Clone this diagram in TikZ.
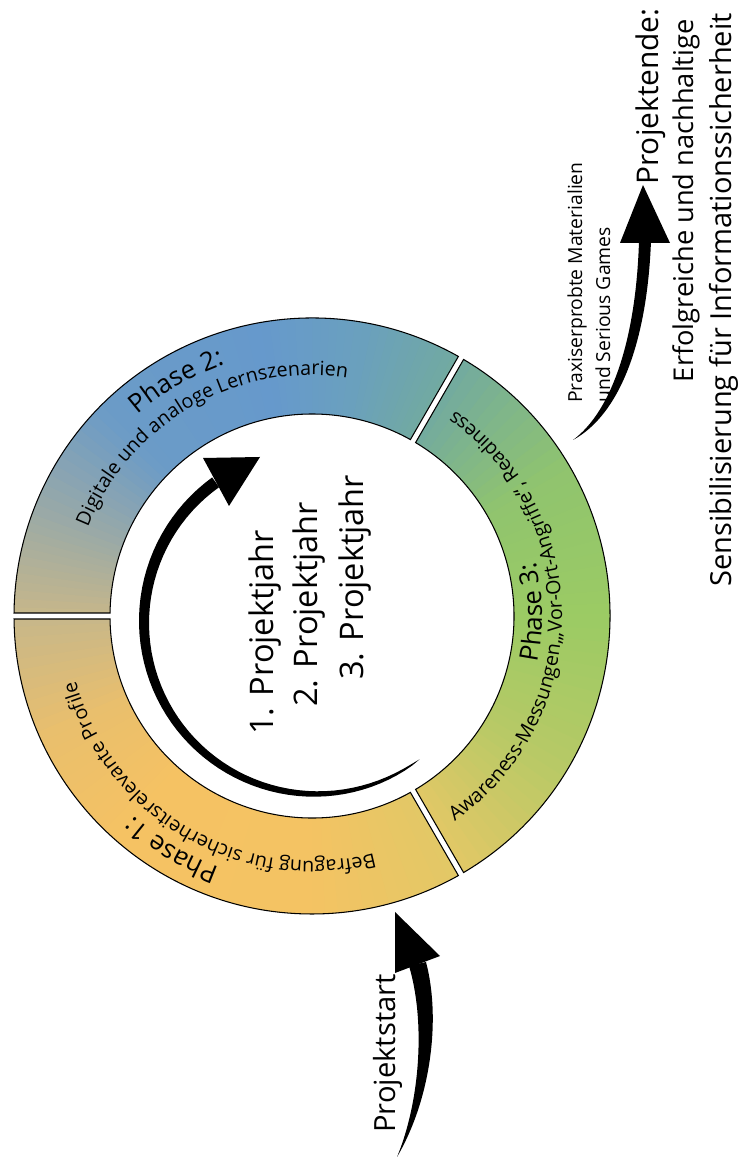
\documentclass[tikz,border=0pt]{standalone}
\usepackage{fontspec}
\setmainfont{Open Sans}
\usetikzlibrary{decorations.text}

% ring colours (by angle)
\definecolor{stA}{HTML}{9BCB64}
\definecolor{stB}{HTML}{90C46E}
\definecolor{stC}{HTML}{72AAA0}
\definecolor{stD}{HTML}{6AA0BE}
\definecolor{stE}{HTML}{6699CC}
\definecolor{stF}{HTML}{6B9BC7}
\definecolor{stG}{HTML}{9CAAA5}
\definecolor{stH}{HTML}{C7B78A}
\definecolor{stI}{HTML}{EABF6C}
\definecolor{stJ}{HTML}{F5C263}
\definecolor{stK}{HTML}{F4C363}
\definecolor{stL}{HTML}{E2C866}
\definecolor{stM}{HTML}{B6C966}

\newcommand{\phaseseg}[2]{([shift={(#1+0.58:298)}]c) arc (#1+0.58:#2-0.58:298)
  -- ([shift={(#2-0.85:202)}]c) arc (#2-0.85:#1+0.85:202) -- cycle}
\newcommand{\phasefont}{\fontsize{14.7}{17}\selectfont}
\newcommand{\descfont}{\fontsize{11.2}{13}\selectfont}

\tikzset{
  yeartxt/.style={rotate=90, inner sep=0pt, font=\fontsize{18.5}{22}\selectfont},
  bigtxt/.style={rotate=90, inner sep=0pt, font=\fontsize{#1}{18}\selectfont},
  bigtxt/.default=15.5,
  smalltxt/.style={rotate=90, inner sep=0pt, font=\fontsize{11}{13}\selectfont},
  ringline/.style={draw=black, line width=0.6pt},
}

\begin{document}
\begin{tikzpicture}[x=0.02cm, y=0.02cm]

    \useasboundingbox (0,0) rectangle (740,1159);
    \coordinate (c) at (312,543);

    % Ring with colour slices
    \begin{scope}
        \clip \phaseseg{-60}{60} \phaseseg{60}{180} \phaseseg{180}{300};
        \foreach \sa/\ea/\ca/\cb in {0/30/stA/stB, 30/60/stB/stC, 60/80/stC/stD,
            80/100/stD/stE, 100/135/stE/stF, 135/160/stF/stG, 160/180/stG/stH,
            180/205/stH/stI, 205/230/stI/stJ, 230/270/stJ/stK, 270/300/stK/stL,
            300/330/stL/stM, 330/360/stM/stA}
            \foreach \k in {0,...,11} {
                \pgfmathsetmacro\s{\sa+(\ea-\sa)*\k/12}
                \pgfmathsetmacro\e{\sa+(\ea-\sa)*(\k+1)/12+0.4}
                \pgfmathsetmacro\t{100*(\k+0.5)/12}
                \colorlet{slicecol}{\cb!\t!\ca}
                \fill[slicecol] (c) -- +(\s:320) -- +(\e:320) -- cycle;
            }
    \end{scope}
    \draw[ringline] \phaseseg{-60}{60};   % phase 3
    \draw[ringline] \phaseseg{60}{180};   % phase 2
    \draw[ringline] \phaseseg{180}{300};  % phase 1

    % Ring texts
    \path[decorate, decoration={text along path, text align=center,
        text={|\phasefont|Phase 2:}}] ([shift={(150:266)}]c) arc (150:90:266);
    \path[decorate, decoration={text along path, text align=center,
        text={|\descfont|Digitale und analoge Lernszenarien}}] ([shift={(175:241)}]c) arc (175:65:241);
    \path[decorate, decoration={text along path, text align=center,
        text={|\phasefont|Phase 1:}}] ([shift={(270:268)}]c) arc (270:208:268);
    \path[decorate, decoration={text along path, text align=center,
        text={|\descfont|Befragung für sicherheitsrelevante Profile}}] ([shift={(300:245)}]c) arc (300:180:245);
    \path[decorate, decoration={text along path, text align=center,
        text={|\phasefont|Phase 3:}}] ([shift={(-30:230)}]c) arc (-30:32:230);
    \path[decorate, decoration={text along path, text align=center,
        text={|\descfont|Awareness-Messungen,„Vor-Ort-Angriffe“, Readiness}}] ([shift={(-62:250)}]c) arc (-62:62:250);

    % Inner arrow (tapered)
    \fill[shift={(316,537)}]
        plot[domain=307:125.7, samples=60, variable=\t]
            ({(172+6*sqrt(abs((307-\t)/181.3)))*cos(\t)}, {(172+6*sqrt(abs((307-\t)/181.3)))*sin(\t)})
        -- plot[domain=125.7:307, samples=60, variable=\t]
            ({(172-6*sqrt(abs((307-\t)/181.3)))*cos(\t)}, {(172-6*sqrt(abs((307-\t)/181.3)))*sin(\t)})
        -- cycle;
    \fill (260,702) -- (203,701) -- (229,653) -- cycle;

    % Years
    \node[yeartxt, anchor=base west] (year1) at (273,424) {1. Projektjahr};
    \node[yeartxt, anchor=base west] (year2) at (317,452) {2. Projektjahr};
    \node[yeartxt, anchor=base west] (year3) at (363,479) {3. Projektjahr};

    % Start arrow
    \fill (397,2) .. controls (421,60) and (425,140) .. (409,193)
        -- (426,197) .. controls (441,140) and (431,60) .. (397,2);
    \fill (395,247) -- (395,186) -- (440,203) -- cycle;
    \node[bigtxt=16.6, anchor=base west] (start) at (395,26) {Projektstart};

    % End arrow
    \fill (573,719) .. controls (612,748) and (636,820) .. (639,918)
        -- (651,918) .. controls (647,815) and (619,744) .. (573,719);
    \fill (643,974) -- (620,916) -- (670,916) -- cycle;
    \node[smalltxt, anchor=base west] (prax1) at (582,756) {Praxiserprobte Materialien};
    \node[smalltxt, anchor=base west] (prax2) at (610,756) {und Serious Games};

    % End texts
    \node[bigtxt=17, anchor=base east] (endlabel) at (658,1151) {Projektende:};
    \node[bigtxt, anchor=base east] (goal1) at (693,1140) {Erfolgreiche und nachhaltige};
    \node[bigtxt=16.5, anchor=base east] (goal2) at (731,1146) {Sensibilisierung für Informationssicherheit};

\end{tikzpicture}
\end{document}
